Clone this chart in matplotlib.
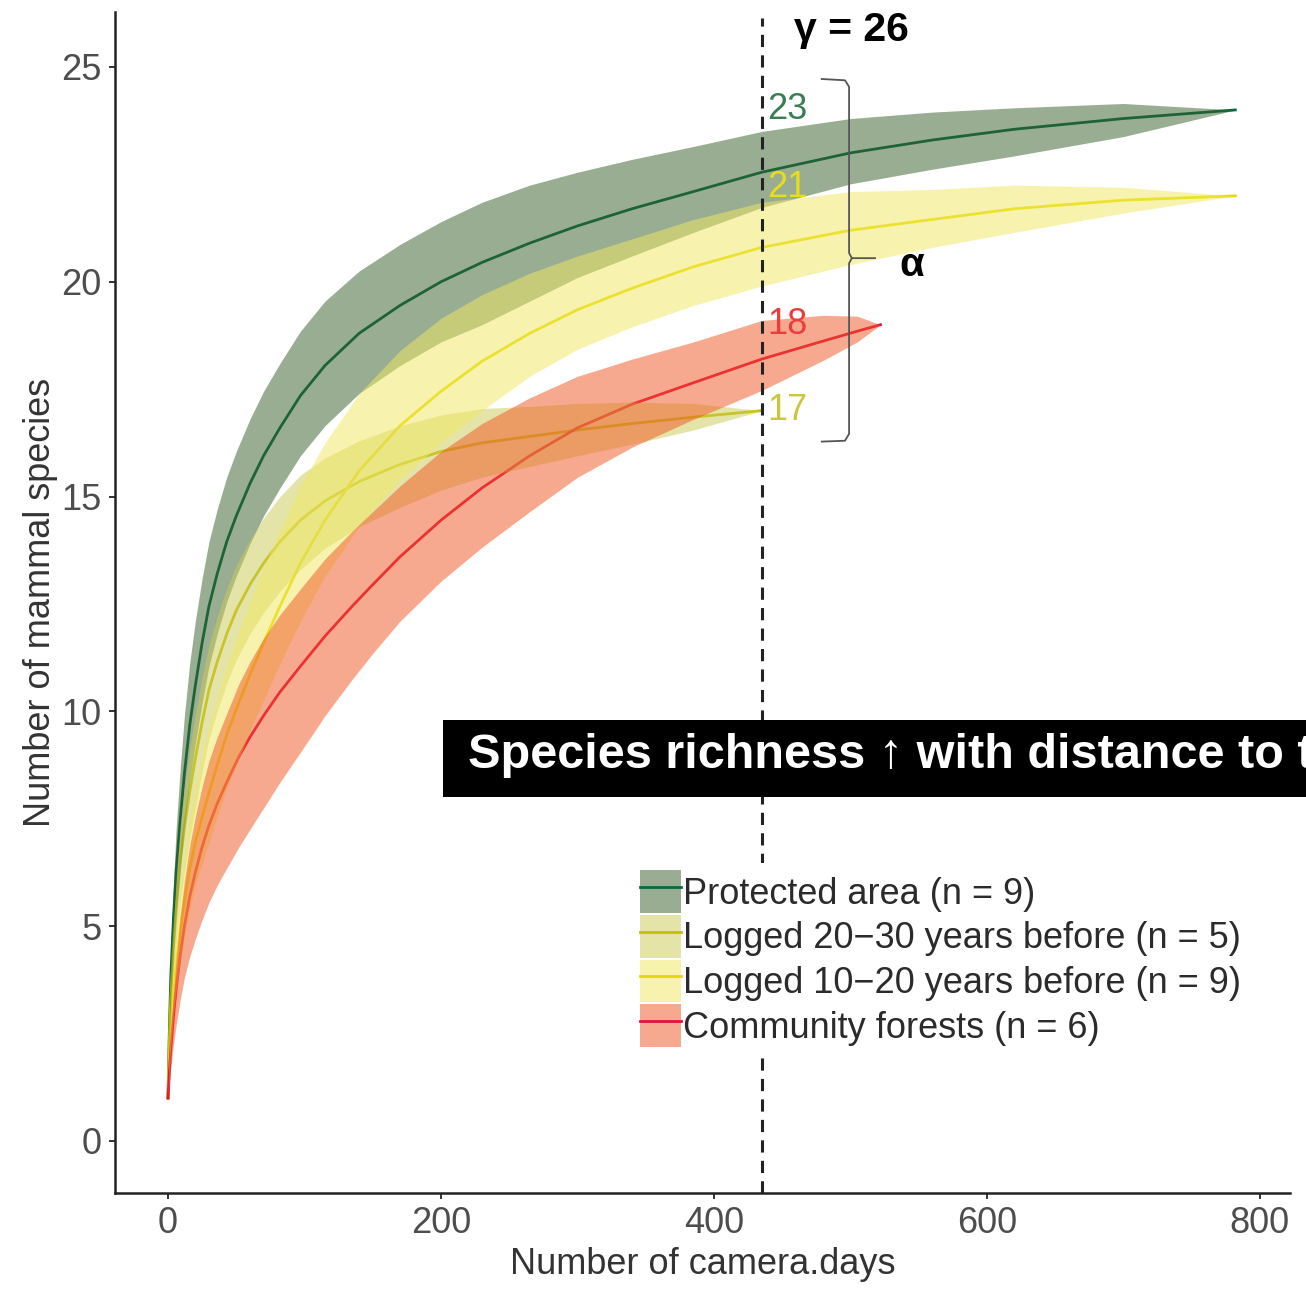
import matplotlib.pyplot as plt
from matplotlib.patches import Patch, Rectangle
from matplotlib.lines import Line2D

plt.rcParams["font.family"] = ["Liberation Sans", "DejaVu Sans"]

# --- data (camera days vs number of species) ---
pa_x = [0, 1, 2, 4, 6, 9, 12, 16, 20, 25, 30, 36, 43, 50, 60, 70, 82, 97, 115, 140,
        170, 200, 230, 265, 300, 340, 385, 435, 500, 560, 620, 700, 782]
pa_mean = [1.0, 2.6, 3.8, 5.2, 6.3, 7.5, 8.55, 9.7, 10.6, 11.6, 12.45, 13.2, 13.95, 14.55, 15.3, 15.95, 16.6,
           17.35, 18.05, 18.8, 19.45, 20.0, 20.45, 20.9, 21.3, 21.7, 22.1, 22.55, 23.0, 23.3, 23.55, 23.8, 24.0]
pa_hi = [1.0, 2.9, 4.3, 6.0, 7.3, 8.7, 9.9, 11.15, 12.1, 13.1, 13.95, 14.7, 15.45, 16.05, 16.8, 17.45, 18.1,
         18.85, 19.55, 20.25, 20.87, 21.4, 21.85, 22.25, 22.55, 22.85, 23.15, 23.5, 23.8, 23.95, 24.05, 24.15, 24.0]
pa_lo = [1.0, 2.3, 3.3, 4.4, 5.3, 6.35, 7.3, 8.4, 9.25, 10.2, 11.05, 11.8, 12.55, 13.15, 13.9, 14.55, 15.2,
         15.95, 16.65, 17.4, 18.05, 18.6, 19.0, 19.55, 20.1, 20.6, 21.15, 21.73, 22.28, 22.62, 22.93, 23.38, 24.0]

l2030_x = [0, 1, 2, 4, 6, 9, 12, 16, 20, 25, 30, 36, 43, 50, 60, 70, 82, 97, 115, 140,
           170, 200, 230, 265, 300, 340, 385, 435]
l2030_mean = [1.0, 2.4, 3.3, 4.5, 5.4, 6.5, 7.3, 8.15, 8.9, 9.75, 10.5, 11.15, 11.8, 12.35, 12.95, 13.45, 13.95,
              14.45, 14.9, 15.35, 15.75, 16.05, 16.25, 16.4, 16.55, 16.7, 16.85, 17.0]
l2030_hi = [1.0, 2.6, 3.65, 5.05, 6.1, 7.35, 8.25, 9.15, 9.95, 10.8, 11.55, 12.2, 12.85, 13.4, 14.0, 14.5, 15.0,
            15.5, 15.9, 16.3, 16.65, 16.9, 17.05, 17.1, 17.17, 17.2, 17.17, 17.0]
l2030_lo = [1.0, 2.15, 2.9, 3.9, 4.6, 5.55, 6.25, 7.05, 7.75, 8.6, 9.35, 10.0, 10.65, 11.2, 11.8, 12.3, 12.8,
            13.3, 13.8, 14.3, 14.75, 15.15, 15.45, 15.7, 15.95, 16.22, 16.55, 17.0]

l1020_x = [0, 1, 2, 4, 6, 9, 12, 16, 20, 25, 30, 36, 43, 50, 60, 70, 82, 97, 115, 140,
           170, 200, 230, 265, 300, 340, 385, 435, 500, 560, 620, 700, 782]
l1020_mean = [1.0, 1.9, 2.5, 3.4, 4.1, 4.95, 5.6, 6.35, 6.95, 7.55, 8.1, 8.75, 9.45, 10.05, 10.85, 11.6, 12.45,
              13.45, 14.45, 15.6, 16.65, 17.45, 18.15, 18.8, 19.35, 19.85, 20.35, 20.8, 21.2, 21.45, 21.7, 21.9, 22.0]
l1020_hi = [1.0, 2.1, 2.85, 3.95, 4.8, 5.85, 6.65, 7.55, 8.25, 8.95, 9.6, 10.3, 11.05, 11.7, 12.55, 13.35, 14.2,
            15.25, 16.25, 17.4, 18.4, 19.15, 19.7, 20.2, 20.6, 21.0, 21.45, 21.85, 22.1, 22.15, 22.25, 22.2, 22.0]
l1020_lo = [1.0, 1.7, 2.2, 2.95, 3.5, 4.2, 4.75, 5.4, 5.95, 6.45, 6.95, 7.55, 8.2, 8.75, 9.55, 10.25, 11.1,
            12.1, 13.15, 14.3, 15.4, 16.25, 17.0, 17.8, 18.43, 18.95, 19.45, 19.9, 20.4, 20.8, 21.15, 21.6, 22.0]

cf_x = [0, 1, 2, 4, 6, 9, 12, 16, 20, 25, 30, 36, 43, 52, 60, 70, 82, 97, 115, 135,
        150, 170, 200, 230, 265, 300, 340, 385, 435, 480, 505, 522]
cf_mean = [1.0, 1.6, 2.1, 2.9, 3.55, 4.35, 5.0, 5.7, 6.25, 6.85, 7.35, 7.85, 8.35, 8.95, 9.4, 9.9, 10.45,
           11.05, 11.75, 12.45, 12.95, 13.6, 14.45, 15.2, 15.95, 16.6, 17.15, 17.65, 18.2, 18.62, 18.85, 19.0]
cf_hi = [1.0, 1.8, 2.45, 3.45, 4.25, 5.25, 6.05, 6.9, 7.55, 8.25, 8.85, 9.4, 9.95, 10.65, 11.15, 11.7, 12.25,
         12.85, 13.55, 14.2, 14.65, 15.25, 16.05, 16.7, 17.3, 17.8, 18.2, 18.6, 19.1, 19.22, 19.2, 19.0]
cf_lo = [1.0, 1.35, 1.7, 2.25, 2.7, 3.3, 3.8, 4.3, 4.7, 5.15, 5.55, 5.95, 6.35, 6.85, 7.25, 7.75, 8.35,
         9.05, 9.9, 10.75, 11.35, 12.1, 13.03, 13.82, 14.65, 15.45, 16.15, 16.8, 17.47, 18.17, 18.6, 19.0]

labels = ["Protected area (n = 9)", "Logged 20\u221230 years before (n = 5)",
          "Logged 10\u221220 years before (n = 9)", "Community forests (n = 6)"]
line_cols = ["#076b45", "#c5bd00", "#e5d900", "#e50f43"]
fill_cols = ["#355d29", "#cbcb55", "#f1e961", "#f15521"]
end_vals = ["23", "17", "21", "18"]
end_cols = ["#3b7d55", "#c9c83a", "#e9dc1c", "#ee3b3b"]
label_y = [24.0, 17.0, 22.2, 19.0]

ref_days = 435
gamma = 26

series = [
    (pa_x, pa_mean, pa_lo, pa_hi),
    (l2030_x, l2030_mean, l2030_lo, l2030_hi),
    (l1020_x, l1020_mean, l1020_lo, l1020_hi),
    (cf_x, cf_mean, cf_lo, cf_hi),
]

fig = plt.figure(figsize=(13.06, 12.89), dpi=100)
ax = fig.add_axes([0.0881, 0.0745, 0.8996, 0.9162])

# lines first, ribbons on top (like ggiNEXT)
for (x, m, lo, hi), lc in zip(series, line_cols):
    ax.plot(x, m, color=lc, lw=2.0, zorder=2, solid_joinstyle="round")
for (x, m, lo, hi), fc in zip(series, fill_cols):
    ax.fill_between(x, lo, hi, color=fc, alpha=0.5, lw=0, zorder=3)

ax.axvline(ref_days, ymax=0.995, color="#222222", lw=2.2, ls=(0, (4, 2.7)), zorder=4)

# end values next to the dashed line
for txt, yy, c in zip(end_vals, label_y, end_cols):
    ax.text(ref_days + 4, yy, txt, color=c, fontsize=26, ha="left", va="center", zorder=5)

ax.text(501, 25.85, "\u03b3 = %d" % gamma, fontsize=29.5, fontweight="bold",
        ha="center", va="center", color="black", zorder=5)
ax.text(545, 20.4, "\u03b1", fontsize=29, fontweight="bold", ha="center", va="center", zorder=5)

# curly bracket for alpha diversity
bx, btip, bleft = 499, 518, 479
btop, bmid, bbot = 24.72, 20.55, 16.28
ax.plot([bleft, bx - 3, bx, bx, bx + 2, btip],
        [btop, btop - 0.03, btop - 0.18, bmid + 0.12, bmid, bmid],
        color="#555555", lw=1.3, zorder=5, clip_on=False)
ax.plot([bx + 2, bx, bx, bx - 3, bleft],
        [bmid, bmid - 0.12, bbot + 0.18, bbot + 0.02, bbot],
        color="#555555", lw=1.3, zorder=5, clip_on=False)

ax.set_xlim(-38.8, 822)
ax.set_ylim(-1.21, 26.28)
ax.set_xticks([0, 200, 400, 600, 800])
ax.set_yticks([0, 5, 10, 15, 20, 25])
for s in ["top", "right"]:
    ax.spines[s].set_visible(False)
for s in ["left", "bottom"]:
    ax.spines[s].set_color("#222222")
    ax.spines[s].set_linewidth(1.8)
ax.tick_params(axis="both", length=4.5, width=1.4, color="#333333",
               labelsize=26, labelcolor="#4d4d4d", pad=5)
ax.set_xlabel("Number of camera.days", fontsize=26, color="#333333", labelpad=4)
ax.set_ylabel("Number of mammal species", fontsize=26, color="#333333", labelpad=2.5)

handles = [(Patch(facecolor=fc, alpha=0.5, edgecolor="none"), Line2D([], [], color=lc, lw=2.0))
           for fc, lc in zip(fill_cols, line_cols)]
leg = ax.legend(handles, labels, loc="upper left", bbox_to_anchor=(0.4847, 0.3305),
                bbox_transform=fig.transFigure, fontsize=26, frameon=True,
                facecolor="white", edgecolor="none", framealpha=1, borderpad=0.2,
                handlelength=1.13, handleheight=1.45, handletextpad=0.06,
                labelspacing=0.05, borderaxespad=0)
leg.set_zorder(6)
for t in leg.get_texts():
    t.set_color("#2b2b2b")

# black banner overlay (runs off the right edge, as in the original)
fig.patches.append(Rectangle((0.3392, 0.3817), 0.7, 0.0597, transform=fig.transFigure,
                             facecolor="black", edgecolor="none", zorder=10))
fig.text(0.3583, 0.4042, "Species richness \u2191 with distance to t", color="white",
         fontsize=35, fontweight="bold", ha="left", va="baseline", zorder=11)

fig.savefig("out.png", dpi=100)
